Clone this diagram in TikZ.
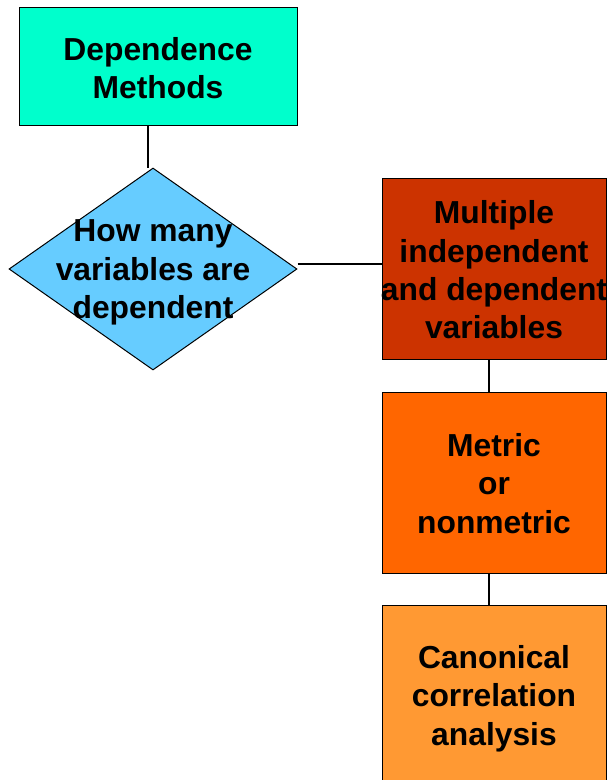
\documentclass[tikz,border=0pt]{standalone}
\usepackage{fontspec}
\setmainfont{Liberation Sans}
\usetikzlibrary{shapes.geometric}
\definecolor{aquabox}{HTML}{00FFCC}
\definecolor{skyblue}{HTML}{66CCFF}
\definecolor{rustred}{HTML}{CC3300}
\definecolor{deeporange}{HTML}{FF6600}
\definecolor{lightorange}{HTML}{FF9933}
\begin{document}
\begin{tikzpicture}[x=1pt,y=-1pt,
  boxtext/.style={font=\bfseries\fontsize{31.8}{38.3}\selectfont, align=center, text=black},
  flowbox/.style={draw=black, line width=1pt, minimum width=224pt, minimum height=181pt, inner sep=0pt},
  link/.style={draw=black, line width=1.2pt}]
\useasboundingbox (0,0) rectangle (609,780);
\clip (0,0) rectangle (609,780);

% start box
\node[draw=black, line width=1pt, fill=aquabox, minimum width=278pt, minimum height=118pt,
      inner sep=0pt] (start) at (158,66) {};
\node[boxtext] (starttext) at (158,68) {Dependence\\Methods};

% decision diamond
\node[diamond, draw=black, line width=1pt, fill=skyblue, minimum width=288pt,
      minimum height=202pt, inner sep=0pt] (dia) at (153,269) {};
\node[boxtext] (diatext) at (153,272.5) {How many\\variables are\\dependent};

% right-hand column
\node[flowbox, fill=rustred] (multi) at (494,269) {};
\node[boxtext] (multitext) at (494,270) {Multiple\\independent\\and dependent\\variables};

\node[flowbox, fill=deeporange] (metric) at (494,482.5) {};
\node[boxtext] (metrictext) at (494,483.5) {Metric\\or\\nonmetric};

\node[flowbox, fill=lightorange, minimum height=185pt] (canon) at (494,697.5) {};
\node[boxtext] (canontext) at (494,698.5) {Canonical\\correlation\\analysis};

% connectors
\draw[link] ([xshift=-10pt]start.south) -- ([xshift=-10pt]start.south |- dia.north);
\draw[link] ([yshift=5pt]dia.east) -- ([yshift=5pt]multi.west);
\draw[link] ([xshift=-5pt]multi.south) -- ([xshift=-5pt]metric.north);
\draw[link] ([xshift=-5pt]metric.south) -- ([xshift=-5pt]canon.north);
\end{tikzpicture}
\end{document}
